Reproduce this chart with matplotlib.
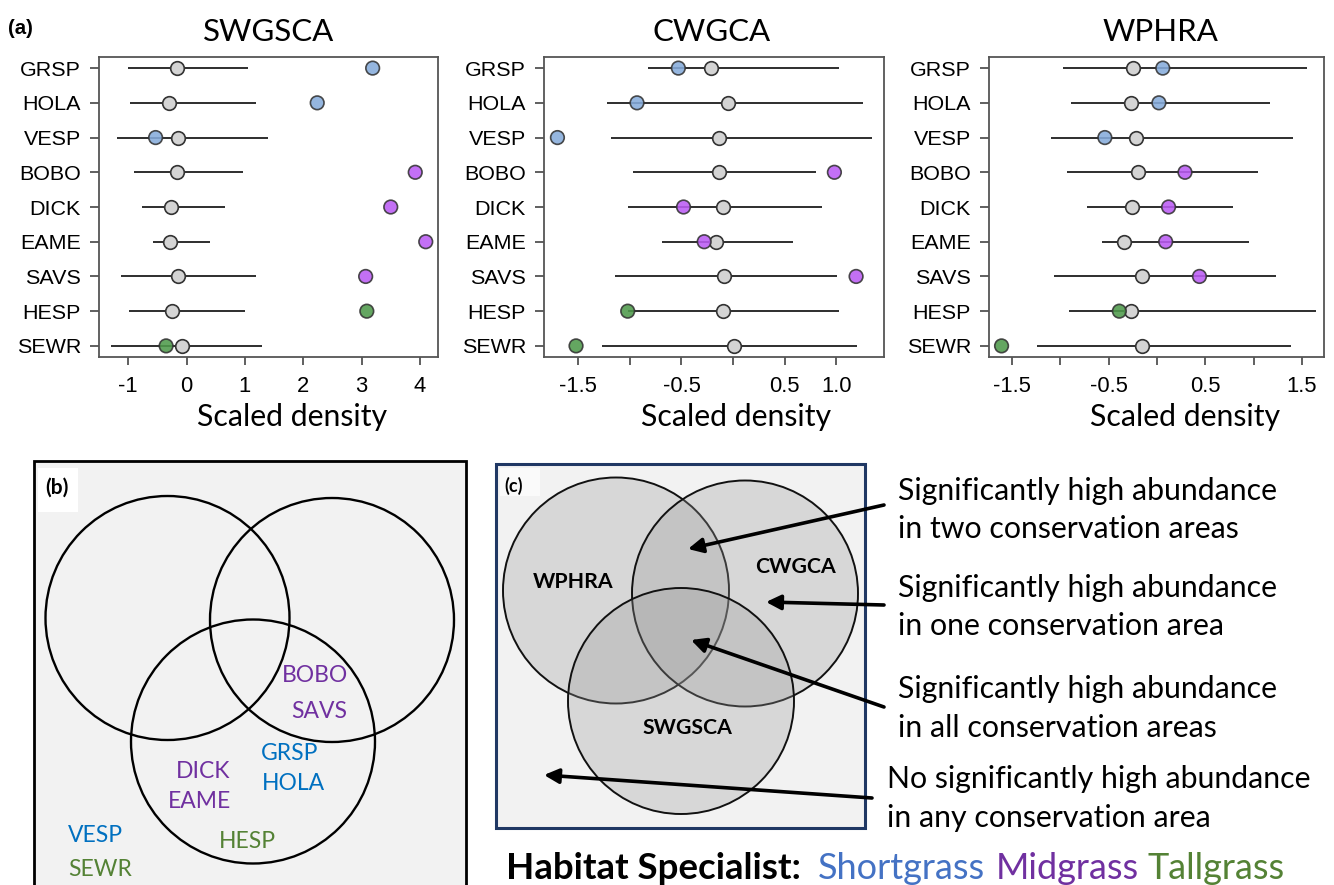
import matplotlib
matplotlib.use('Agg')
import matplotlib.pyplot as plt
from matplotlib.patches import Circle, Rectangle

plt.rcParams['font.family'] = ['Liberation Sans', 'DejaVu Sans']
plt.rcParams['axes.unicode_minus'] = False

# ---------------- data ----------------
species = ['GRSP', 'HOLA', 'VESP', 'BOBO', 'DICK', 'EAME', 'SAVS', 'HESP', 'SEWR']
habitat = ['Shortgrass', 'Shortgrass', 'Shortgrass', 'Midgrass', 'Midgrass',
           'Midgrass', 'Midgrass', 'Tallgrass', 'Tallgrass']
areas = ['SWGSCA', 'CWGCA', 'WPHRA']

swgsca_null = [-0.16, -0.30, -0.14, -0.16, -0.27, -0.29, -0.14, -0.25, -0.07]
swgsca_lo = [-1.01, -0.97, -1.20, -0.90, -0.76, -0.57, -1.13, -0.98, -1.30]
swgsca_hi = [1.06, 1.19, 1.39, 0.97, 0.66, 0.41, 1.19, 1.00, 1.30]
swgsca_obs = [3.19, 2.24, -0.53, 3.92, 3.50, 4.10, 3.07, 3.09, -0.35]

cwgca_null = [-0.21, -0.05, -0.14, -0.14, -0.10, -0.17, -0.09, -0.10, 0.01]
cwgca_lo = [-0.82, -1.22, -1.18, -0.97, -1.02, -0.69, -1.14, -1.02, -1.27]
cwgca_hi = [1.02, 1.26, 1.34, 0.80, 0.86, 0.58, 1.01, 1.02, 1.20]
cwgca_obs = [-0.53, -0.93, -1.70, 0.98, -0.48, -0.28, 1.19, -1.02, -1.52]

wphra_null = [-0.25, -0.27, -0.22, -0.20, -0.26, -0.34, -0.16, -0.27, -0.16]
wphra_lo = [-0.97, -0.89, -1.10, -0.93, -0.73, -0.57, -1.07, -0.91, -1.24]
wphra_hi = [1.55, 1.17, 1.41, 1.05, 0.79, 0.95, 1.23, 1.65, 1.39]
wphra_obs = [0.06, 0.02, -0.54, 0.29, 0.12, 0.09, 0.44, -0.39, -1.61]

swgsca_ticks = [-1, 0, 1, 2, 3, 4]
swgsca_ticklabels = ['-1', '0', '1', '2', '3', '4']
cwgca_ticks = [-1.5, -1.0, -0.5, 0.0, 0.5, 1.0]
cwgca_ticklabels = ['-1.5', '', '-0.5', '', '0.5', '1.0']
wphra_ticks = [-1.5, -1.0, -0.5, 0.0, 0.5, 1.0, 1.5]
wphra_ticklabels = ['-1.5', '', '-0.5', '', '0.5', '', '1.5']

# panel (b) membership labels
venn_b_labels = ['BOBO', 'SAVS', 'GRSP', 'HOLA', 'DICK', 'EAME', 'HESP', 'VESP', 'SEWR']
venn_b_groups = ['Midgrass', 'Midgrass', 'Shortgrass', 'Shortgrass', 'Midgrass',
                 'Midgrass', 'Tallgrass', 'Shortgrass', 'Tallgrass']

# ---------------- styling ----------------
W, H = 1334, 885
fig = plt.figure(figsize=(W / 100, H / 100), dpi=100)
CAL = ['Lato', 'DejaVu Sans']
ARIAL = ['Liberation Sans', 'DejaVu Sans']

dot_colors = {'Shortgrass': '#86acdb', 'Midgrass': '#bb5cf4', 'Tallgrass': '#4f9a4b'}
text_colors = {'Shortgrass': '#0070c0', 'Midgrass': '#7030a0', 'Tallgrass': '#548235'}
legend_colors = {'Shortgrass': '#4472c4', 'Midgrass': '#7030a0', 'Tallgrass': '#548235'}


def fax(l, t, r, b):
    return fig.add_axes([l / W, 1 - b / H, (r - l) / W, (b - t) / H])


renderer = fig.canvas.get_renderer()


def fit(t, width_px):
    w = t.get_window_extent(renderer).width
    t.set_fontsize(t.get_fontsize() * width_px / w)
    return t.get_fontsize()


def measure(txt, family, size, weight='normal'):
    t = fig.text(0, 0, txt, family=family, fontsize=size, fontweight=weight)
    w = t.get_window_extent(renderer).width
    t.remove()
    return w


# tick label sizes fitted to the reference widths
ytick_size = 15.0 * 61.0 / measure('GRSP', ARIAL, 15.0)
xtick_size = 15.0 * 38.0 / measure('-1.5', ARIAL, 15.0)

panel_data = [
    (swgsca_null, swgsca_lo, swgsca_hi, swgsca_obs, (-1.50, 4.31), swgsca_ticks, swgsca_ticklabels),
    (cwgca_null, cwgca_lo, cwgca_hi, cwgca_obs, (-1.83, 1.46), cwgca_ticks, cwgca_ticklabels),
    (wphra_null, wphra_lo, wphra_hi, wphra_obs, (-1.74, 1.73), wphra_ticks, wphra_ticklabels),
]
ax_boxes = [(99, 57, 438, 357), (544, 57, 884, 357), (989, 57, 1324, 357)]

ypos = list(range(len(species)))
for (null, lo, hi, obs, xlim, ticks, tlabels), box in zip(panel_data, ax_boxes):
    ax = fax(*box)
    ax.hlines(ypos, lo, hi, color='#2e2e2e', lw=1.4, zorder=1)
    ax.plot(null, ypos, 'o', ms=9.8, mfc='#d4d4d4', mec='#333333', mew=1.2,
            ls='none', zorder=2)
    ax.scatter(obs, ypos, s=96, c=[dot_colors[h] for h in habitat],
               edgecolors='#333333', linewidths=1.2, alpha=0.88, zorder=3)
    ax.set_xlim(*xlim)
    ax.set_ylim(len(species) - 1 + 0.32, -0.32)
    ax.set_yticks(ypos, species)
    ax.set_xticks(ticks, tlabels)
    ax.tick_params(axis='y', length=6.5, width=1.2, color='#444444', pad=6.5)
    ax.tick_params(axis='x', length=5.5, width=1.2, color='#444444', pad=8)
    for lab in ax.get_yticklabels():
        lab.set_fontfamily(ARIAL)
        lab.set_fontsize(ytick_size)
    for lab in ax.get_xticklabels():
        lab.set_fontfamily(ARIAL)
        lab.set_fontsize(xtick_size)
    for s in ax.spines.values():
        s.set_color('#555555')
        s.set_linewidth(1.3)

# ---------------- overlay in pixel coordinates ----------------
ov = fig.add_axes([0, 0, 1, 1], zorder=5)
ov.set_xlim(0, W)
ov.set_ylim(H, 0)
ov.axis('off')

# panel (a) titles and axis labels
t = ov.text(8, 34, '(a)', family=ARIAL, fontsize=15, fontweight='bold',
            va='baseline', ha='left')
fit(t, 25)
title_centers = [269, 712, 1160]
xlabel_centers = [292, 736, 1185]
tsize = None
for name, cx in zip(areas, title_centers):
    t = ov.text(cx, 41, name, family=CAL, ha='center', va='baseline', fontsize=20)
    if tsize is None:
        tsize = fit(t, 131)
    else:
        t.set_fontsize(tsize)
lsize = None
for cx in xlabel_centers:
    t = ov.text(cx, 426, 'Scaled density', family=CAL, ha='center', va='baseline', fontsize=18)
    if lsize is None:
        lsize = fit(t, 190)
    else:
        t.set_fontsize(lsize)

# ---------------- panel (b) ----------------
ov.add_patch(Rectangle((33.5, 461), 432.5, 450, facecolor='#f2f2f2',
                       edgecolor='black', lw=2.0, zorder=1))
ov.add_patch(Rectangle((38, 468), 40, 44, facecolor='white', edgecolor='none', zorder=2))
ov.text(45, 494, '(b)', family=CAL, fontweight='bold', fontsize=15, ha='left',
        va='baseline', zorder=3)
for (cx, cy) in [(167.5, 618), (332, 620), (253, 741.5)]:
    ov.add_patch(Circle((cx, cy), 122, facecolor='none', edgecolor='black', lw=1.7, zorder=3))

b_pos = [(315, 676), (319, 712), (290, 753), (293, 783), (203, 772), (199, 801),
         (247, 842), (95, 835), (100, 870)]
bsize = None
for lab, grp, (x, y) in zip(venn_b_labels, venn_b_groups, b_pos):
    t = ov.text(x, y, lab, family=CAL, color=text_colors[grp], ha='center',
                va='center', fontsize=17, zorder=4)
    if bsize is None:
        bsize = fit(t, 66)
    else:
        t.set_fontsize(bsize)

# ---------------- panel (c) ----------------
ov.add_patch(Rectangle((496, 463.5), 369, 364, facecolor='#f2f2f2',
                       edgecolor='#203864', lw=2.2, zorder=1))
ov.add_patch(Rectangle((500, 468), 40, 28, facecolor='#fafafa', edgecolor='none', zorder=1.5))
ov.text(504, 492, '(c)', family=CAL, fontweight='bold', fontsize=13, ha='left',
        va='baseline', zorder=3)
c_circles = [('WPHRA', (616, 590.5), (573, 582)),
             ('CWGCA', (745, 593.5), (796, 567)),
             ('SWGSCA', (681, 701), (687, 728))]
csize = None
for z, (name, (cx, cy), (tx, ty)) in enumerate(c_circles):
    ov.add_patch(Circle((cx, cy), 113, facecolor='#9a9a9a', alpha=0.3,
                        edgecolor='none', zorder=2 + z))
    ov.add_patch(Circle((cx, cy), 113, facecolor='none', edgecolor='#111111',
                        lw=1.4, zorder=2 + z + 0.5))
for name, (cx, cy), (tx, ty) in c_circles:
    t = ov.text(tx, ty, name, family=CAL, fontweight='bold', ha='center',
                va='center', fontsize=13, zorder=6)
    if csize is None:
        csize = fit(t, 80)
    else:
        t.set_fontsize(csize)

arrows = [((884, 505), (688, 549)),
          ((884, 605), (766, 602)),
          ((884, 707), (691, 640)),
          ((872, 798), (544, 775))]
for tail, head in arrows:
    ov.annotate('', xy=head, xytext=tail,
                arrowprops=dict(arrowstyle='-|>', lw=2.6, color='black',
                                mutation_scale=22, shrinkA=0, shrinkB=0),
                zorder=7)

c_lines = [('Significantly high abundance', 898, 500),
           ('in two conservation areas', 898, 538),
           ('Significantly high abundance', 898, 597),
           ('in one conservation area', 898, 635),
           ('Significantly high abundance', 898, 698),
           ('in all conservation areas', 898, 737),
           ('No significantly high abundance', 887, 788),
           ('in any conservation area', 887, 827)]
rsize = None
for txt, x, y in c_lines:
    t = ov.text(x, y, txt, family=CAL, ha='left', va='baseline', fontsize=19)
    if rsize is None:
        rsize = fit(t, 380)
    else:
        t.set_fontsize(rsize)

# legend line
t = ov.text(506, 879, 'Habitat Specialist:', family=CAL, fontweight='bold',
            ha='left', va='baseline', fontsize=22)
fit(t, 295)
leg_x = {'Shortgrass': 818, 'Midgrass': 996, 'Tallgrass': 1148}
gsize = None
for g in ['Shortgrass', 'Midgrass', 'Tallgrass']:
    t = ov.text(leg_x[g], 879, g, family=CAL, color=legend_colors[g],
                ha='left', va='baseline', fontsize=22)
    if gsize is None:
        gsize = fit(t, 167)
    else:
        t.set_fontsize(gsize)

fig.savefig('out.png', dpi=100)
